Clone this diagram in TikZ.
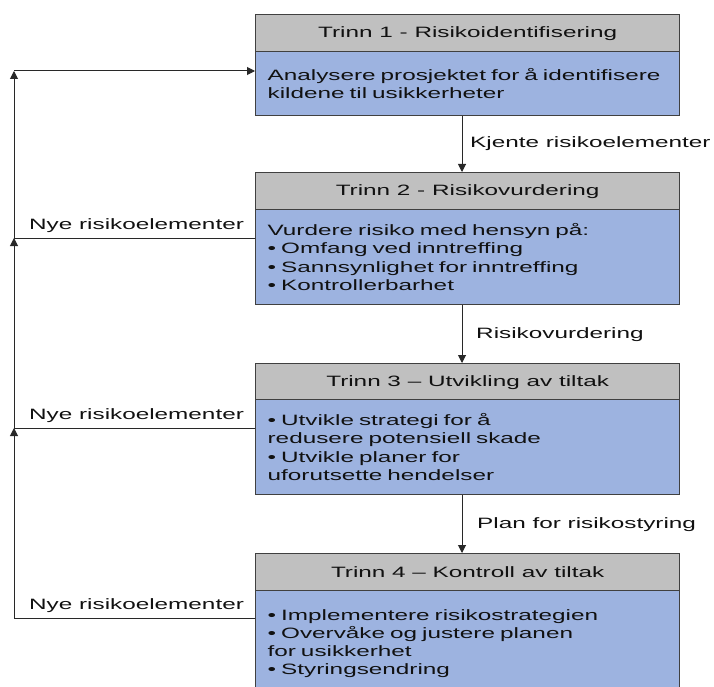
\documentclass[tikz,border=0pt]{standalone}
\usepackage{fontspec}
\setmainfont[FakeStretch=1.62]{Liberation Sans}
\usetikzlibrary{arrows.meta}
\definecolor{hdrgray}{RGB}{192,192,192}
\definecolor{bodyblue}{RGB}{157,179,224}
\definecolor{boxline}{RGB}{64,64,64}
\definecolor{conline}{RGB}{40,40,40}
\definecolor{txt}{RGB}{17,17,17}
\begin{document}
\begin{tikzpicture}[x=1pt,y=-1pt,
  every node/.style={text=txt, font=\fontsize{15}{18.3}\selectfont},
  hdr/.style={draw=boxline, fill=hdrgray, line width=1.3pt, minimum width=424pt,
    minimum height=37pt, anchor=north west, inner sep=0pt},
  bdy/.style={draw=boxline, fill=bodyblue, line width=1.3pt, minimum width=424pt,
    text width=400pt, align=left, anchor=north west, inner xsep=12pt, inner ysep=0pt},
  conn/.style={draw=conline, line width=1pt},
  arr/.style={conn, -{Triangle[length=8pt,width=8pt]}},
  lbl/.style={anchor=base west, inner sep=0pt}]
\useasboundingbox (0,0) rectangle (714,687);
\clip (0,0) rectangle (714,687);
% boxes
\node[hdr] (h1) at (255,14) {Trinn 1 - Risikoidentifisering};
\node[bdy, minimum height=64pt] (b1) at (255,51) {Analysere prosjektet for å identifisere\\kildene til usikkerheter};
\node[hdr] (h2) at (255,172) {Trinn 2 - Risikovurdering};
\node[bdy, minimum height=95pt] (b2) at (255,209) {Vurdere risiko med hensyn på:\\• Omfang ved inntreffing\\• Sannsynlighet for inntreffing\\• Kontrollerbarhet};
\node[hdr] (h3) at (255,363) {Trinn 3 – Utvikling av tiltak};
\node[bdy, minimum height=95pt] (b3) at (255,399) {• Utvikle strategi for å\\redusere potensiell skade\\• Utvikle planer for\\uforutsette hendelser};
\node[hdr] (h4) at (255,553) {Trinn 4 – Kontroll av tiltak};
\node[bdy, minimum height=106pt] (b4) at (255,590) {• Implementere risikostrategien\\• Overvåke og justere planen\\for usikkerhet\\• Styringsendring};
% arrow labels
\node[lbl] (l1) at (470,148) {Kjente risikoelementer};
\node[lbl] (l2) at (476,338) {Risikovurdering};
\node[lbl] (l3) at (477,528) {Plan for risikostyring};
\node[lbl] (n2) at (29,229) {Nye risikoelementer};
\node[lbl] (n3) at (29,419) {Nye risikoelementer};
\node[lbl] (n4) at (29,609) {Nye risikoelementer};
% down arrows
\coordinate (ax) at (462,0);
\draw[arr] (b1.south -| ax) -- (h2.north -| ax);
\draw[arr] (b2.south -| ax) -- (h3.north -| ax);
\draw[arr] (b3.south -| ax) -- (h4.north -| ax);
% feedback loop
\coordinate (j1) at (14,71);
\coordinate (j2) at (14,238);
\coordinate (j3) at (14,428);
\coordinate (j4) at (14,618);
\draw[conn] (b2.west |- j2) -- (j2);
\draw[conn] (b3.west |- j3) -- (j3);
\draw[conn] (b4.west |- j4) -- (j4);
\draw[arr] (j4) -- (j3);
\draw[arr] (j3) -- (j2);
\draw[arr] (j2) -- (j1);
\draw[arr] (j1) -- (b1.west |- j1);
\end{tikzpicture}
\end{document}
